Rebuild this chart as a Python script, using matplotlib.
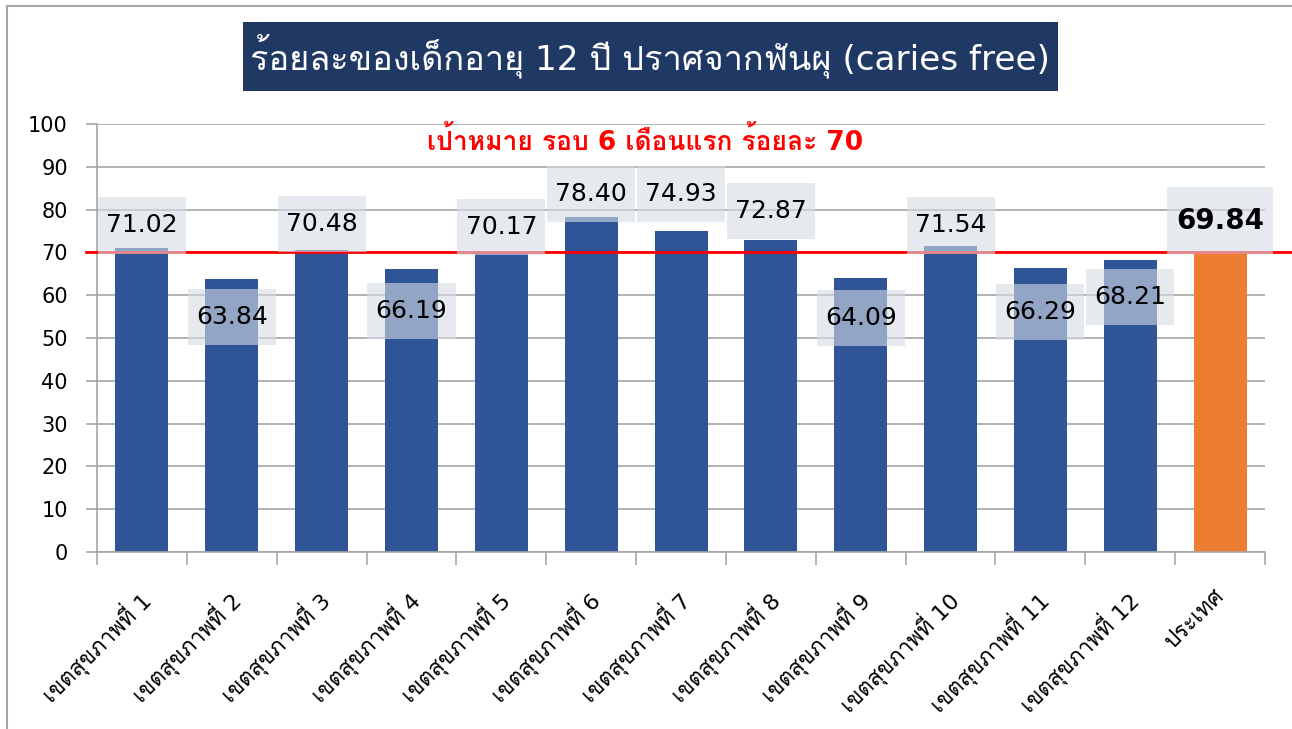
import matplotlib
matplotlib.use("Agg")
import matplotlib.pyplot as plt
from matplotlib import font_manager
from matplotlib.ft2font import FT2Font
from matplotlib.patches import Rectangle
from matplotlib.lines import Line2D
import matplotlib.transforms as mtransforms

# ข้อมูล
categories = ["เขตสุขภาพที่ 1", "เขตสุขภาพที่ 2", "เขตสุขภาพที่ 3", "เขตสุขภาพที่ 4",
              "เขตสุขภาพที่ 5", "เขตสุขภาพที่ 6", "เขตสุขภาพที่ 7", "เขตสุขภาพที่ 8",
              "เขตสุขภาพที่ 9", "เขตสุขภาพที่ 10", "เขตสุขภาพที่ 11", "เขตสุขภาพที่ 12",
              "ประเทศ"]
values = [71.02, 63.84, 70.48, 66.19, 70.17, 78.40, 74.93, 72.87, 64.09, 71.54, 66.29, 68.21, 69.84]
target = 70
title = "ร้อยละของเด็กอายุ 12 ปี ปราศจากฟันผุ (caries free)"
target_text = "เป้าหมาย รอบ 6 เดือนแรก ร้อยละ 70"

# ตำแหน่งป้ายตัวเลข (วางเองใน Excel)
label_y = [76.3, 54.9, 76.6, 56.3, 75.9, 83.6, 83.6, 79.6, 54.7, 76.3, 56.1, 59.6, 77.4]


def find_thai_fonts():
    names = []
    for f in font_manager.fontManager.ttflist:
        try:
            cmap = FT2Font(f.fname).get_charmap()
        except Exception:
            continue
        if 0x0E01 in cmap and f.name not in names:
            names.append(f.name)
    return names


thai = find_thai_fonts()
plt.rcParams["font.family"] = ["DejaVu Sans"] + thai[:1]

fig = plt.figure(figsize=(12.92, 7.29), dpi=100)
ax = fig.add_axes([0.0751, 0.2428, 0.904, 0.587])

blue = "#2F5597"
orange = "#ED7D31"
colors = [blue] * (len(values) - 1) + [orange]
x = list(range(len(values)))
ax.bar(x, values, width=0.59, color=colors, zorder=2)

ax.set_xlim(-0.5, len(values) - 0.5)
ax.set_ylim(0, 100)
ax.set_yticks(range(0, 101, 10))
ax.grid(axis="y", color="#A6A6A6", linewidth=1.2, zorder=0)
ax.tick_params(axis="y", labelsize=15, length=8, color="#A6A6A6", width=1.2, pad=13)
for s in ["top", "right"]:
    ax.spines[s].set_visible(False)
ax.spines["left"].set_color("#A6A6A6")
ax.spines["bottom"].set_color("#A6A6A6")
ax.spines["left"].set_linewidth(1.2)
ax.spines["bottom"].set_linewidth(1.2)

ax.set_xticks(x)
ax.set_xticklabels(categories, rotation=45, ha="right", rotation_mode="anchor", fontsize=16)
ax.tick_params(axis="x", which="major", length=0, pad=24)
ax.set_xticks([i - 0.5 for i in range(len(values) + 1)], minor=True)
ax.tick_params(axis="x", which="minor", length=9, color="#A6A6A6", width=1.2)
for lbl in ax.get_xticklabels():
    lbl.set_transform(lbl.get_transform() + mtransforms.ScaledTranslation(-6 / 100, 0, fig.dpi_scale_trans))

# เส้นเป้าหมาย
trans = mtransforms.blended_transform_factory(fig.transFigure, ax.transData)
ax.add_line(Line2D([86 / 1292, 1.0], [target, target], transform=trans,
                   color="#FF0000", linewidth=2, zorder=4, clip_on=False))

# ป้ายตัวเลข พร้อมกล่องพื้นหลัง
for i, v in enumerate(values):
    last = i == len(values) - 1
    bw = 1.18 if last else 0.98
    bh = 15.7 if last else 13.1
    ax.add_patch(Rectangle((i - bw / 2, label_y[i] - bh / 2), bw, bh,
                           facecolor="#D6DCE5", edgecolor="none", alpha=0.6, zorder=5,
                           clip_on=False))
    ax.text(i, label_y[i], f"{v:.2f}", ha="center", va="center",
            fontsize=20 if last else 18, fontweight="bold" if last else "normal",
            color="black", zorder=6)

fig.text(645 / 1292, 587 / 729, target_text, ha="center", va="center",
         fontsize=19, fontweight="bold", color="#FF0000", zorder=6)

# กล่องชื่อกราฟ
fig.patches.append(Rectangle((243 / 1292, 638 / 729), 815 / 1292, 69 / 729,
                             transform=fig.transFigure, facecolor="#203864", edgecolor="none"))
fig.text(650 / 1292, 673 / 729, title, ha="center", va="center", fontsize=24.7, color="white")

# กรอบสไลด์
fig.lines.append(Line2D([7 / 1292, 7 / 1292], [0, 723 / 729], transform=fig.transFigure,
                        color="#A6A6A6", linewidth=1.5))
fig.lines.append(Line2D([7 / 1292, 1.0], [723 / 729, 723 / 729], transform=fig.transFigure,
                        color="#A6A6A6", linewidth=1.5))

fig.savefig("out.png", dpi=100)
